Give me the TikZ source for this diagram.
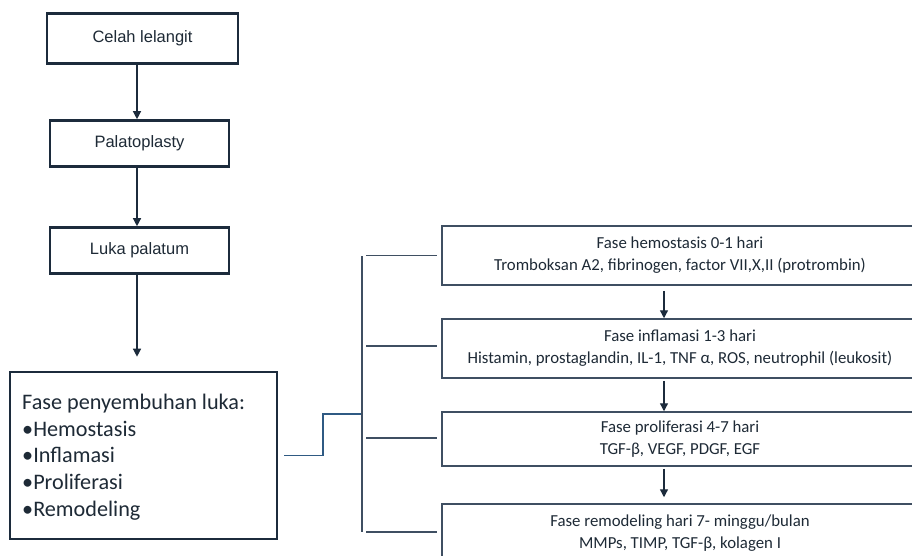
\documentclass[tikz,border=0pt]{standalone}
\usepackage{fontspec}
\setmainfont{Carlito}
\newfontfamily\arialf{Liberation Sans}
\usetikzlibrary{arrows.meta}
\definecolor{navy}{HTML}{1C2B3C}
\definecolor{txt}{HTML}{1E2A36}
\definecolor{slate}{HTML}{3F4F62}
\definecolor{blueln}{HTML}{2F5A83}
\tikzset{
  topbox/.style={draw=navy, line width=2.6pt, inner sep=0pt, text=txt,
    font=\arialf\fontsize{16.5}{20}\selectfont},
  bigbox/.style={draw=navy, line width=2.6pt, inner sep=0pt, text=txt,
    minimum width=267pt, minimum height=167pt},
  phasebox/.style={draw=slate, line width=1.5pt, inner sep=0pt, text=txt,
    minimum width=476pt, align=center,
    font=\fontsize{16.8}{22}\selectfont},
  arr/.style={draw=navy, line width=1.3pt, -{Triangle[width=8pt,length=8pt]}},
  conn/.style={draw=slate, line width=1.3pt},
  bconn/.style={draw=blueln, line width=1.3pt},
}
\begin{document}
\begin{tikzpicture}[x=1pt,y=-1pt]
\useasboundingbox (0,0) rectangle (912,556);
\clip (0,0) rectangle (912,556);
\fill[white] (0,0) rectangle (912,556);

% left column
\node[topbox, minimum width=191pt, minimum height=50pt] (celah) at (142.5,38.5) {Celah lelangit};
\node[topbox, minimum width=179pt, minimum height=46pt] (palato) at (139.5,143.5) {Palatoplasty};
\node[topbox, minimum width=179pt, minimum height=46pt] (luka) at (139.5,250.5) {Luka palatum};
\node[bigbox] (big) at (143.5,455.5) {};
\node[anchor=west, align=left, text=txt, inner sep=0pt,
  font=\fontsize{22.2}{26.7}\selectfont] (bigtxt) at (22,457)
  {Fase penyembuhan luka:\\ •Hemostasis\\ •Inflamasi\\ •Proliferasi\\ •Remodeling};

\coordinate (arrx) at (137,0);
\draw[arr] (celah.south -| arrx) -- (palato.north -| arrx);
\draw[arr] (palato.south -| arrx) -- (luka.north -| arrx);
\draw[arr, shorten >=14pt] (luka.south -| arrx) -- (big.north -| arrx);

% right column
\node[phasebox, minimum height=59pt] (h1) at (680,255.5)
  {Fase hemostasis 0-1 hari\\ Tromboksan A2, fibrinogen, factor VII,X,II (protrombin)};
\node[phasebox, minimum height=59pt] (h2) at (680,348.5)
  {Fase inflamasi 1-3 hari\\ Histamin, prostaglandin, IL-1, TNF α, ROS, neutrophil (leukosit)};
\node[phasebox, minimum height=54pt] (h3) at (680,439)
  {Fase proliferasi 4-7 hari\\ TGF-β, VEGF, PDGF, EGF};
\node[phasebox, minimum height=59pt] (h4) at (680,533.5)
  {Fase remodeling hari 7- minggu/bulan\\ MMPs, TIMP, TGF-β, kolagen I};

\coordinate (rax) at (664,0);
\draw[arr, shorten <=5pt] (h1.south -| rax) -- (h2.north -| rax);
\draw[arr, shorten <=2pt] (h2.south -| rax) -- (h3.north -| rax);
\draw[arr, shorten <=2pt, shorten >=6pt] (h3.south -| rax) -- (h4.north -| rax);

% connectors
\coordinate (bend) at (323,414);
\coordinate (tjoin) at (362,414);
\coordinate (ttop) at (362,256);
\coordinate (tbot) at (362,532);
\coordinate (brx) at (366,0);
\draw[bconn] ([xshift=6pt]big.east) -| (bend) -- (tjoin);
\draw[conn] (ttop) -- (tbot);
\draw[conn] (h1.west -| brx) -- ([xshift=-4pt]h1.west);
\draw[conn] ([yshift=2.5pt]h2.west -| brx) -- ([xshift=-4pt,yshift=2.5pt]h2.west);
\draw[conn] ([yshift=1pt]h3.west -| brx) -- ([xshift=-4pt,yshift=1pt]h3.west);
\draw[conn] ([yshift=1.5pt]h4.west -| brx) -- ([xshift=-4pt,yshift=1.5pt]h4.west);
\end{tikzpicture}
\end{document}
